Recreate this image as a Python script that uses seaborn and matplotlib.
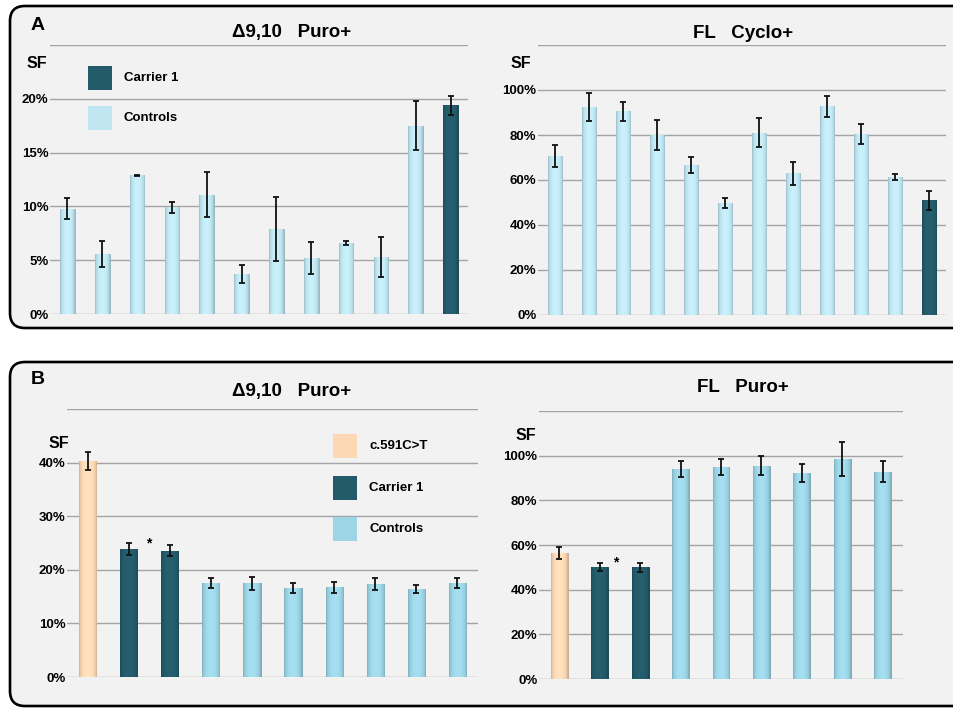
import matplotlib
matplotlib.use("Agg")
import matplotlib.pyplot as plt
from matplotlib.patches import FancyBboxPatch, Rectangle
import matplotlib.colors as mcolors
import numpy as np
import pandas as pd
import seaborn as sns

# ---- data ----
a1_vals = [9.8, 5.6, 12.9, 9.9, 11.1, 3.7, 7.9, 5.2, 6.6, 5.3, 17.5, 19.4]
a1_errs = [1.0, 1.2, 0.05, 0.5, 2.1, 0.85, 2.95, 1.45, 0.2, 1.9, 2.3, 0.9]
a1_grp = ["Controls"] * 11 + ["Carrier 1"]

a2_vals = [70.6, 92.6, 90.5, 80.0, 66.6, 49.9, 81.0, 62.9, 92.7, 80.5, 61.2, 51.0]
a2_errs = [4.75, 6.2, 4.3, 6.7, 3.6, 2.2, 6.4, 5.0, 4.5, 4.3, 1.3, 4.2]
a2_grp = ["Controls"] * 11 + ["Carrier 1"]

b1_vals = [40.3, 23.9, 23.6, 17.5, 17.5, 16.6, 16.7, 17.4, 16.4, 17.5]
b1_errs = [1.7, 1.05, 1.1, 0.95, 1.2, 0.85, 1.0, 1.15, 0.8, 0.9]
b1_grp = ["c.591C>T", "Carrier 1", "Carrier 1"] + ["Controls"] * 7

b2_vals = [56.4, 50.1, 50.1, 94.0, 95.1, 95.5, 92.1, 98.5, 92.9]
b2_errs = [2.5, 1.9, 2.0, 3.7, 3.6, 4.3, 4.1, 7.7, 4.9]
b2_grp = ["c.591C>T", "Carrier 1", "Carrier 1"] + ["Controls"] * 6

pal_a = {"c.591C>T": "#fdd8b5", "Carrier 1": "#245b6a", "Controls": "#bfe6f1"}
pal_b = {"c.591C>T": "#fdd8b5", "Carrier 1": "#245b6a", "Controls": "#9dd5e6"}

sns.set_theme(style="white")
plt.rcParams["font.family"] = ["Liberation Sans", "DejaVu Sans"]
plt.rcParams["font.weight"] = "bold"
plt.rcParams["text.color"] = "black"

W, H = 954, 708
fig = plt.figure(figsize=(W / 100, H / 100), dpi=100)
fig.patch.set_facecolor("white")

def fx(x):
    return x / W

def fy(y):
    return 1 - y / H

# panel boxes (in inches, so the rounding stays round)
for top, bottom in [(6, 328), (362, 706)]:
    fig.add_artist(FancyBboxPatch((0.10, (H - bottom) / 100), 9.7, (bottom - top) / 100,
                                  boxstyle="round,pad=0,rounding_size=0.15",
                                  transform=fig.dpi_scale_trans, facecolor="#f2f2f2",
                                  edgecolor="black", lw=1.9, zorder=0))

# horizontal shading profile for the "cylinder" look of the bars
shade = np.linspace(-1, 1, 40)
shade = 0.80 + 0.25 * np.sqrt(np.clip(1 - shade ** 2, 0, 1))

def panel(rect, vals, errs, grp, pal, ymax, step, nlab, capsize):
    ax = fig.add_axes(rect)
    ax.set_facecolor("none")
    df = pd.DataFrame({"x": [str(i) for i in range(len(vals))], "v": vals, "g": grp})
    sns.barplot(data=df, x="x", y="v", hue="g", palette=pal, dodge=False, saturation=1,
                width=0.42, legend=False, ax=ax, zorder=3)
    for p in list(ax.patches):
        fc = np.array(mcolors.to_rgb(p.get_facecolor()))
        p.set_edgecolor(fc * 0.8)
        p.set_linewidth(0.7)
        x0, y0 = p.get_x(), p.get_y()
        img = np.clip(fc[None, None, :] * shade[None, :, None], 0, 1)
        im = ax.imshow(img, extent=(x0, x0 + p.get_width(), y0, y0 + p.get_height()),
                       aspect="auto", zorder=3.5, interpolation="bilinear")
        im.set_clip_path(p)
    ax.errorbar(range(len(vals)), vals, yerr=errs, fmt="none", ecolor="#111111",
                elinewidth=1.3, capsize=capsize, capthick=1.3, zorder=5, clip_on=False)
    ax.set_xlim(-0.5, len(vals) - 0.5)
    ax.set_ylim(0, ymax)
    ticks = np.arange(0, ymax + step / 2, step)
    ax.set_yticks(ticks)
    ax.set_yticklabels([f"{int(t)}%" if i < nlab else "" for i, t in enumerate(ticks)],
                       fontsize=9.5, fontweight="bold", color="black")
    ax.tick_params(axis="y", length=0, pad=1)
    ax.set_xticks([])
    ax.set_xlabel("")
    ax.set_ylabel("")
    ax.grid(axis="y", color="#a4a4a4", lw=1.0, zorder=1)
    ax.grid(axis="x", visible=False)
    for s in ax.spines.values():
        s.set_visible(False)
    return ax

ax1 = panel([fx(50), fy(314), (468 - 50) / W, (314 - 45) / H],
            a1_vals, a1_errs, a1_grp, pal_a, 25, 5, 5, 2.2)
ax2 = panel([fx(538), fy(315), (946 - 538) / W, (315 - 45) / H],
            a2_vals, a2_errs, a2_grp, pal_a, 120, 20, 6, 2.2)
ax3 = panel([fx(67), fy(677), (478 - 67) / W, (677 - 409) / H],
            b1_vals, b1_errs, b1_grp, pal_b, 50, 10, 5, 2.4)
ax4 = panel([fx(539), fy(679), (903 - 539) / W, (679 - 411) / H],
            b2_vals, b2_errs, b2_grp, pal_b, 120, 20, 6, 2.4)

# significance stars
ax3.text(1.5, 25.0, "*", ha="center", va="center", fontsize=10, fontweight="bold")
ax4.text(1.39, 52.0, "*", ha="center", va="center", fontsize=10, fontweight="bold")

# titles, panel letters, SF labels
for x, y, s in [(292, 33, "\u03949,10   Puro+"), (743, 33, "FL   Cyclo+"),
                (292, 391, "\u03949,10   Puro+"), (743, 387, "FL   Puro+")]:
    fig.text(fx(x), fy(y), s, ha="center", va="center", fontsize=13.5, fontweight="bold")
for x, y, s in [(38, 26, "A"), (38, 379, "B")]:
    fig.text(fx(x), fy(y), s, ha="center", va="center", fontsize=14, fontweight="bold")
for x, y in [(37, 64), (521, 63), (59, 443), (526, 435)]:
    fig.text(fx(x), fy(y), "SF", ha="center", va="center", fontsize=11.5, fontweight="bold")

# legends
def legend(x0, rows, labels, pal):
    for yc, lab in zip(rows, labels):
        fig.add_artist(Rectangle((fx(x0), fy(yc + 12)), 24 / W, 24 / H,
                                 transform=fig.transFigure, facecolor=pal[lab],
                                 edgecolor="none", zorder=4))
        fig.text(fx(x0 + 36), fy(yc), lab, ha="left", va="center",
                 fontsize=9.5, fontweight="bold")

legend(88, [78, 118], ["Carrier 1", "Controls"], pal_a)
legend(333, [446, 488, 529], ["c.591C>T", "Carrier 1", "Controls"], pal_b)

fig.savefig("out.png", dpi=100)
